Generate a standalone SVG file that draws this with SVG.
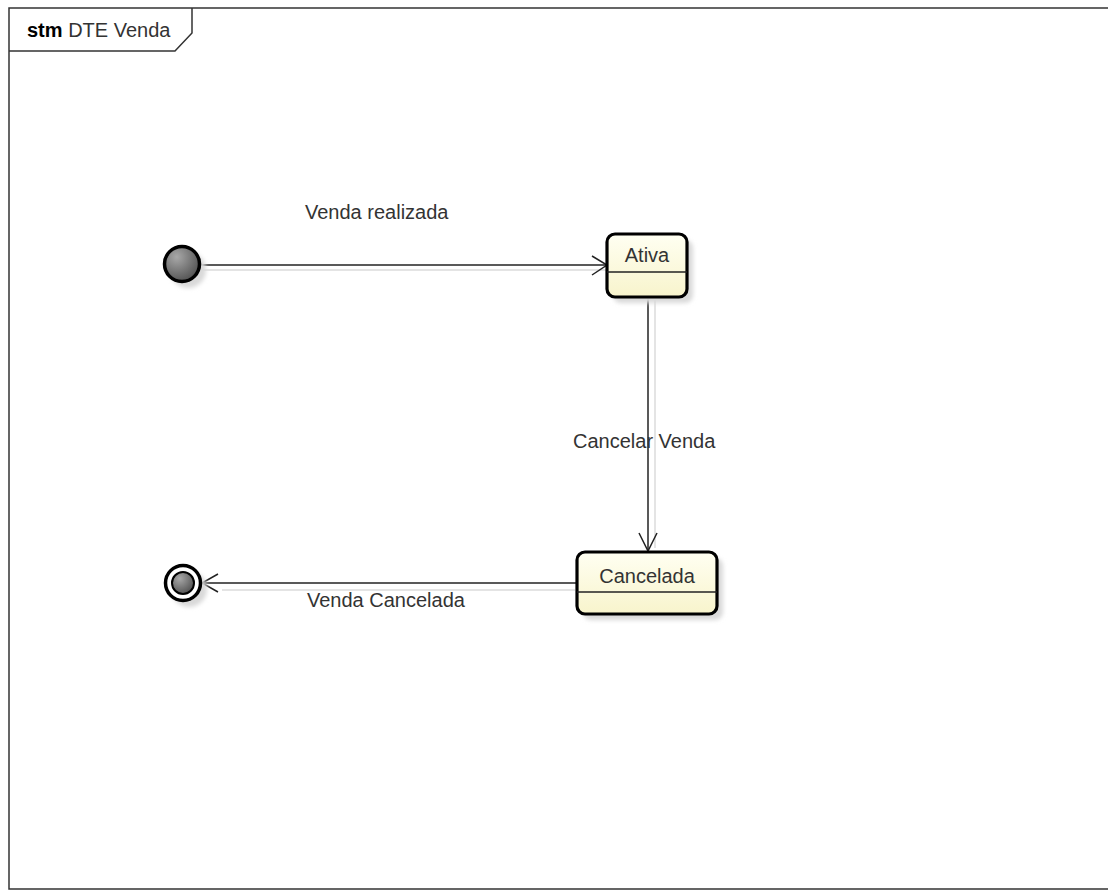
<svg xmlns="http://www.w3.org/2000/svg" width="1108" height="891" viewBox="0 0 1108 891">
<defs>
<style>
.lbl{font-family:"Liberation Sans",Arial,sans-serif;font-size:20px;fill:#333}
.state{fill:url(#sg);stroke:#000;stroke-width:3.2}
.shadow{fill:#d9d9d9;filter:url(#blur)}
.conn{stroke:#222;stroke-width:1.5;fill:none}
.cshadow{stroke:#e4e4e4;stroke-width:2;fill:none}
.div{stroke:#222;stroke-width:1.5}
</style>
<linearGradient id="sg" x1="0" y1="0" x2="0" y2="1">
<stop offset="0" stop-color="#fffff2"/>
<stop offset="1" stop-color="#f8f4cc"/>
</linearGradient>
<radialGradient id="dot" cx="0.35" cy="0.3" r="0.8">
<stop offset="0" stop-color="#a8a8a8"/>
<stop offset="1" stop-color="#4a4a4a"/>
</radialGradient>
<filter id="blur" x="-20%" y="-20%" width="140%" height="140%">
<feGaussianBlur stdDeviation="2"/>
</filter>
</defs>
<rect width="1108" height="891" fill="#fff"/>
<g id="frame">
<path d="M1110,8 H9 V889 H1110" fill="none" stroke="#333" stroke-width="1.5"/>
<path d="M9,51 H175 L192,33 V8" fill="none" stroke="#333" stroke-width="1.5"/>
<text x="27" y="37" class="lbl"><tspan font-weight="bold" fill="#000">stm</tspan> DTE Venda</text>
</g>
<g id="connectors">
<line class="cshadow" x1="202" y1="270" x2="606" y2="270"/>
<line class="cshadow" x1="655" y1="300" x2="655" y2="548"/>
<line class="cshadow" x1="575" y1="590" x2="222" y2="590"/>
<g id="t1">
<line class="conn" x1="200" y1="265" x2="607" y2="265"/>
<polyline class="conn" points="592,256 607,265 592,275"/>
<text x="305" y="219" class="lbl">Venda realizada</text>
</g>
<g id="t2">
<line class="conn" x1="648" y1="297" x2="648" y2="551"/>
<polyline class="conn" points="639,533 648,551 657,533"/>
<text x="573" y="448" class="lbl">Cancelar Venda</text>
</g>
<g id="t3">
<line class="conn" x1="577" y1="583" x2="202" y2="583"/>
<polyline class="conn" points="218,574 202,583 218,592"/>
<text x="307" y="607" class="lbl">Venda Cancelada</text>
</g>
</g>
<g id="initial">
<circle cx="188" cy="270" r="18" class="shadow"/>
<circle cx="182" cy="264" r="17.5" fill="url(#dot)" stroke="#000" stroke-width="3.5"/>
</g>
<g id="ativa">
<rect x="613" y="240" width="80" height="63" rx="8" class="shadow"/>
<rect x="607" y="234" width="80" height="63" rx="8" class="state"/>
<line x1="607" y1="272" x2="687" y2="272" class="div"/>
<text x="647" y="262" class="lbl" text-anchor="middle">Ativa</text>
</g>
<g id="cancelada">
<rect x="583" y="558" width="140" height="62" rx="8" class="shadow"/>
<rect x="577" y="552" width="140" height="62" rx="8" class="state"/>
<line x1="577" y1="592" x2="717" y2="592" class="div"/>
<text x="647" y="583" class="lbl" text-anchor="middle">Cancelada</text>
</g>
<g id="final">
<circle cx="189" cy="589" r="18" class="shadow"/>
<circle cx="183" cy="583" r="17.5" fill="#fff" stroke="#000" stroke-width="3.5"/>
<circle cx="183" cy="583" r="11" fill="url(#dot)" stroke="#000" stroke-width="2"/>
</g>
</svg>
